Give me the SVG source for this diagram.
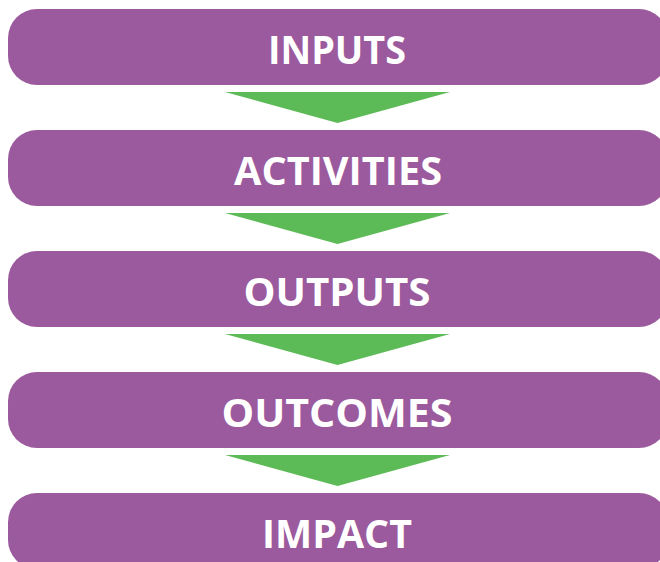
<svg xmlns="http://www.w3.org/2000/svg" width="660" height="562" viewBox="0 0 660 562">
  <style>
    .box { fill: #9b5a9d; }
    .label { fill: #ffffff; font-family: "Open Sans", "Noto Sans", "Liberation Sans", sans-serif; font-weight: bold; font-size: 40px; text-anchor: middle; }
    .arrow { fill: #5dbb57; }
  </style>
  <rect width="660" height="562" fill="#ffffff"/>

  <!-- downward connectors between stages -->
  <g id="connectors">
    <polygon class="arrow" points="225,92 450,92 337.5,123"/>
    <polygon class="arrow" points="225,213 450,213 337.5,244"/>
    <polygon class="arrow" points="225,334 450,334 337.5,365"/>
    <polygon class="arrow" points="225,455 450,455 337.5,486"/>
  </g>

  <g id="inputs">
    <rect class="box" x="8" y="9" width="660" height="76" rx="29" ry="29"/>
    <text class="label" x="337" y="64" textLength="138" lengthAdjust="spacingAndGlyphs">INPUTS</text>
  </g>
  <g id="activities">
    <rect class="box" x="8" y="130" width="660" height="76" rx="29" ry="29"/>
    <text class="label" x="338" y="185" textLength="208" lengthAdjust="spacingAndGlyphs">ACTIVITIES</text>
  </g>
  <g id="outputs">
    <rect class="box" x="8" y="251" width="660" height="76" rx="29" ry="29"/>
    <text class="label" x="337" y="306" textLength="187" lengthAdjust="spacingAndGlyphs">OUTPUTS</text>
  </g>
  <g id="outcomes">
    <rect class="box" x="8" y="372" width="660" height="76" rx="29" ry="29"/>
    <text class="label" x="337" y="427" textLength="231" lengthAdjust="spacingAndGlyphs">OUTCOMES</text>
  </g>
  <g id="impact">
    <rect class="box" x="8" y="493" width="660" height="76" rx="29" ry="29"/>
    <text class="label" x="337" y="548" textLength="150" lengthAdjust="spacingAndGlyphs">IMPACT</text>
  </g>
</svg>
